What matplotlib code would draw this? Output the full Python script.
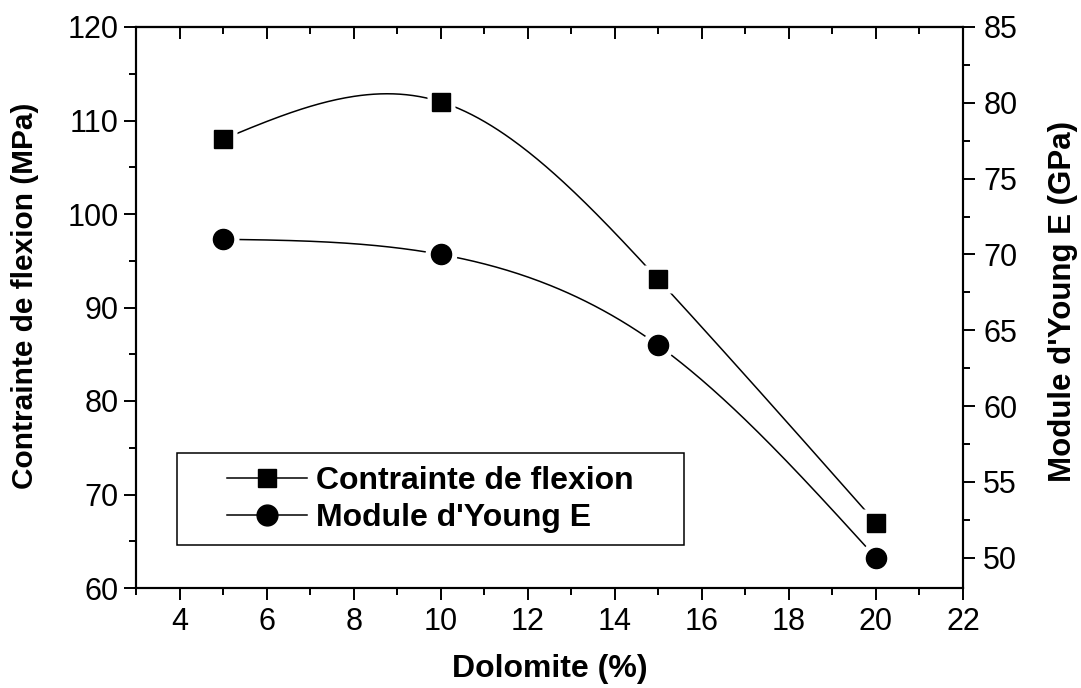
import numpy as np
import matplotlib
matplotlib.use("Agg")
import matplotlib.pyplot as plt
from matplotlib.lines import Line2D
from matplotlib.patches import Rectangle
from matplotlib.ticker import MultipleLocator

plt.rcParams['font.family'] = ['Liberation Sans', 'DejaVu Sans']

# Data
dolomite = [5, 10, 15, 20]
contrainte = [108, 112, 93, 67]      # MPa
module_young = [71, 70, 64, 50]      # GPa

x_ticks = [4, 6, 8, 10, 12, 14, 16, 18, 20, 22]
left_ticks = [60, 70, 80, 90, 100, 110, 120]
right_ticks = [50, 55, 60, 65, 70, 75, 80, 85]


def natural_spline(x, y, n=300):
    """Natural cubic spline through (x, y), sampled at n points."""
    x = np.asarray(x, float)
    y = np.asarray(y, float)
    k = len(x)
    h = np.diff(x)
    A = np.zeros((k, k))
    b = np.zeros(k)
    A[0, 0] = 1
    A[-1, -1] = 1
    for i in range(1, k - 1):
        A[i, i - 1] = h[i - 1]
        A[i, i] = 2 * (h[i - 1] + h[i])
        A[i, i + 1] = h[i]
        b[i] = 6 * ((y[i + 1] - y[i]) / h[i] - (y[i] - y[i - 1]) / h[i - 1])
    M = np.linalg.solve(A, b)
    xs = np.linspace(x[0], x[-1], n)
    idx = np.clip(np.searchsorted(x, xs) - 1, 0, k - 2)
    x0, x1 = x[idx], x[idx + 1]
    y0, y1 = y[idx], y[idx + 1]
    m0, m1 = M[idx], M[idx + 1]
    hh = x1 - x0
    ys = (m0 * (x1 - xs) ** 3 / (6 * hh) + m1 * (xs - x0) ** 3 / (6 * hh)
          + (y0 / hh - m0 * hh / 6) * (x1 - xs)
          + (y1 / hh - m1 * hh / 6) * (xs - x0))
    return xs, ys


W, H = 1081, 688
fig = plt.figure(figsize=(W / 100, H / 100), dpi=100)
ax = fig.add_axes([136 / W, 1 - 588 / H, (963 - 136) / W, (588 - 27) / H])
ax2 = ax.twinx()

lw = 1.1
tick_fs = 22

# Flexural stress (left axis)
xs, ys = natural_spline(dolomite, contrainte)
ax.plot(xs, ys, color='black', lw=lw, zorder=2)
ax.plot(dolomite, contrainte, ls='none', marker='s', ms=20, mfc='white',
        mec='none', zorder=3)
ax.plot(dolomite, contrainte, ls='none', marker='s', ms=13, mfc='black',
        mec='black', zorder=4)

# Young's modulus (right axis)
xs2, ys2 = natural_spline(dolomite, module_young)
ax2.plot(xs2, ys2, color='black', lw=lw, zorder=2)
ax2.plot(dolomite, module_young, ls='none', marker='o', ms=23, mfc='white',
         mec='none', zorder=3)
ax2.plot(dolomite, module_young, ls='none', marker='o', ms=14.5,
         mfc='black', mec='black', zorder=4)

ax.set_xlim(3, 22)
ax.set_ylim(60, 120)
ax2.set_ylim(48, 85)

ax.set_xticks(x_ticks)
ax.xaxis.set_minor_locator(MultipleLocator(1))
ax.set_yticks(left_ticks)
ax.yaxis.set_minor_locator(MultipleLocator(5))
ax2.set_yticks(right_ticks)
ax2.yaxis.set_minor_locator(MultipleLocator(2.5))

for a in (ax, ax2):
    for s in a.spines.values():
        s.set_linewidth(1.5)

ax.tick_params(axis='x', which='major', direction='out', length=8.6, width=1.4,
               labelsize=tick_fs, pad=5, top=False)
ax.tick_params(axis='x', which='minor', direction='out', length=5, width=1.4,
               top=False)
ax.tick_params(axis='y', which='major', direction='out', length=8.6, width=1.4,
               labelsize=tick_fs, pad=4, right=False)
ax.tick_params(axis='y', which='minor', direction='out', length=5, width=1.4,
               right=False)
ax2.tick_params(axis='y', which='major', direction='out', length=8.6,
                width=1.4, labelsize=tick_fs, pad=6)
ax2.tick_params(axis='y', which='minor', direction='out', length=5, width=1.4)

# inward ticks along the top edge
top = ax.secondary_xaxis('top')
top.set_xticks(x_ticks)
top.xaxis.set_minor_locator(MultipleLocator(1))
top.tick_params(axis='x', which='major', direction='in', length=8.6,
                width=1.4, labeltop=False)
top.tick_params(axis='x', which='minor', direction='in', length=5, width=1.4)
top.spines['top'].set_linewidth(1.5)

ax.set_xlabel('Dolomite (%)', fontsize=23, fontweight='bold', labelpad=12)
ax.set_ylabel('Contrainte de flexion (MPa)', fontsize=21.5,
              fontweight='bold', va='center')
ax2.set_ylabel("Module d'Young E (GPa)", fontsize=22.5,
               fontweight='bold', va='center', rotation=90)
ax.yaxis.set_label_coords((25 - 136) / 827, (588 - 296) / 561)
ax2.yaxis.set_label_coords((1063 - 136) / 827, (588 - 302) / 561)

# Legend with a separate frame
box = Rectangle((177 / W, 1 - 545 / H), (684 - 177) / W, (545 - 453) / H,
                transform=fig.transFigure, fill=True, facecolor='white',
                edgecolor='black', lw=1.1, zorder=10)
fig.add_artist(box)
handles = [
    Line2D([], [], color='black', lw=lw, marker='s', ms=12.5),
    Line2D([], [], color='black', lw=lw, marker='o', ms=15),
]
leg = fig.legend(handles, ['Contrainte de flexion', "Module d'Young E"],
                 loc='upper left', bbox_to_anchor=(227 / W, 1 - 466 / H),
                 bbox_transform=fig.transFigure, frameon=False,
                 borderpad=0, borderaxespad=0, handlelength=2.5,
                 handletextpad=0.3, labelspacing=0.22,
                 prop={'size': 23, 'weight': 'bold'})
leg.set_zorder(11)

fig.savefig('out.png', dpi=100)
